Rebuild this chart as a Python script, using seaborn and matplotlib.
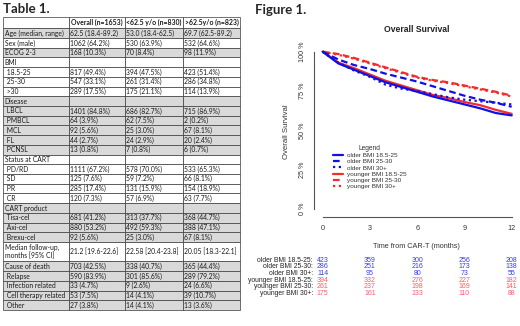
import numpy as np
import pandas as pd
import matplotlib
matplotlib.use("Agg")
import matplotlib.pyplot as plt
import seaborn as sns
from matplotlib.lines import Line2D
from matplotlib.transforms import blended_transform_factory

# ---------------- Table 1 data ----------------
col_labels = ["", "Overall (n=1653)", "<62.5 y/o (n=830)", ">62.5y/o (n=823)"]
row_labels = ["Age (median, range)", "Sex (male)", "ECOG 2-3", "BMI", " 18.5-25", " 25-30", " >30",
              "Disease", " LBCL", " PMBCL", " MCL", " FL", " PCNSL", "Status at CART", " PD/RD", " SD",
              " PR", " CR", "CART product", " Tisa-cel", " Axi-cel", " Brexu-cel",
              "Median follow-up,\nmonths [95% CI]", "Cause of death", " Relapse", " Infection related",
              " Cell therapy related", " Other"]
overall = ["62.5 (18.4-89.2)", "1062 (64.2%)", "168 (10.3%)", "", "817 (49.4%)", "547 (33.1%)",
           "289 (17.5%)", "", "1401 (84.8%)", "64 (3.9%)", "92 (5.6%)", "44 (2.7%)", "13 (0.8%)", "",
           "1111 (67.2%)", "125 (7.6%)", "285 (17.4%)", "120 (7.3%)", "", "681 (41.2%)", "880 (53.2%)",
           "92 (5.6%)", "21.2 [19.6-22.6]", "703 (42.5%)", "590 (83.9%)", "33 (4.7%)", "53 (7.5%)",
           "27 (3.8%)"]
young = ["53.0 (18.4-62.5)", "530 (63.9%)", "70 (8.4%)", "", "394 (47.5%)", "261 (31.4%)",
         "175 (21.1%)", "", "686 (82.7%)", "62 (7.5%)", "25 (3.0%)", "24 (2.9%)", "7 (0.8%)", "",
         "578 (70.0%)", "59 (7.2%)", "131 (15.9%)", "57 (6.9%)", "", "313 (37.7%)", "492 (59.3%)",
         "25 (3.0%)", "22.58 [20.4-23.8]", "338 (40.7%)", "301 (85.6%)", "9 (2.6%)", "14 (4.1%)",
         "14 (4.1%)"]
old = ["69.7 (62.5-89.2)", "532 (64.6%)", "98 (11.9%)", "", "423 (51.4%)", "286 (34.8%)",
       "114 (13.9%)", "", "715 (86.9%)", "2 (0.2%)", "67 (8.1%)", "20 (2.4%)", "6 (0.7%)", "",
       "533 (65.3%)", "66 (8.1%)", "154 (18.9%)", "63 (7.7%)", "", "368 (44.7%)", "388 (47.1%)",
       "67 (8.1%)", "20.05 [18.3-22.1]", "365 (44.4%)", "289 (79.2%)", "24 (6.6%)", "39 (10.7%)",
       "13 (3.6%)"]
shaded = [1, 0, 1, 0, 0, 0, 0, 1, 1, 1, 1, 1, 1, 0, 0, 0, 0, 0, 1, 1, 1, 1, 0, 1, 1, 1, 1, 1]

# ---------------- Figure 1 data (overall survival, %) ----------------
months = [0, 1, 2, 3, 4, 5, 6, 7, 8, 9, 10, 11, 12]
older_bmi_18 = [100, 92.5, 88.5, 84.5, 80.5, 77.5, 74.5, 71.5, 69, 66.5, 64, 61, 59.5]
older_bmi_25 = [100, 95, 91.5, 89, 86, 83.5, 81, 78, 75, 72, 69.5, 67.5, 65]
older_bmi_30 = [100, 93, 88, 84, 79, 76.5, 75, 73, 71, 69.5, 68.5, 67.5, 66.5]
younger_bmi_18 = [100, 93, 89.5, 85.5, 81.5, 78.5, 75.5, 72.5, 70.5, 68, 66, 63, 60.5]
younger_bmi_25 = [100, 98.5, 96, 93, 90, 87, 84, 82, 80.5, 78.5, 76.5, 74.5, 72]
younger_bmi_30 = [100, 98, 95.5, 92.5, 89.5, 86.5, 83.5, 81.5, 80, 78, 76, 74, 71.5]

group_names = ["older BMI 18.5-25", "older BMI 25-30", "older BMI 30+",
               "younger BMI 18.5-25", "younger BMI 25-30", "younger BMI 30+"]
group_surv = [older_bmi_18, older_bmi_25, older_bmi_30,
              younger_bmi_18, younger_bmi_25, younger_bmi_30]

risk_times = [0, 3, 6, 9, 12]
risk_older_18 = [423, 359, 300, 256, 208]
risk_older_25 = [286, 251, 216, 173, 138]
risk_older_30 = [114, 95, 80, 73, 55]
risk_younger_18 = [394, 332, 276, 227, 182]
risk_younger_25 = [261, 237, 198, 169, 141]
risk_younger_30 = [175, 161, 133, 110, 88]
group_risk = [risk_older_18, risk_older_25, risk_older_30,
              risk_younger_18, risk_younger_25, risk_younger_30]

# ---------------- styles ----------------
sns.set_style("white")
plt.rcParams["font.family"] = ["Liberation Sans", "DejaVu Sans"]

BLUE = "#1010e6"
RED = "#f52a2a"
BLUE_TXT = "#3a3af0"
RED_TXT = "#ff5a6a"
line_colors = [BLUE, BLUE, BLUE, RED, RED, RED]
txt_colors = [BLUE_TXT] * 3 + [RED_TXT] * 3
dash_styles = ["", (3, 1.6), (1, 1.6), "", (3, 1.6), (1, 1.6)]

W, H = 520, 326
fig = plt.figure(figsize=(W / 100, H / 100), dpi=100)

def fx(px):
    return px / W

def fy(py):
    return 1 - py / H

# ---------------- Table ----------------
fig.text(fx(3), fy(9), "Table 1.", fontsize=9.5, fontweight="bold", family="Lato",
         va="center", ha="left")
tx0, tx1, ty0, ty1 = 3, 240, 17, 310
ax_t = fig.add_axes([fx(tx0), fy(ty1), fx(tx1 - tx0), (ty1 - ty0) / H])
ax_t.axis("off")
cell_text = [[r, a, b, c] for r, a, b, c in zip(row_labels, overall, young, old)]
tbl = ax_t.table(cellText=cell_text, colLabels=col_labels, cellLoc="left",
                 bbox=[0, 0, 1, 1])
tbl.auto_set_font_size(False)
col_w = [66, 56, 58, 57]
for (r, c), cell in tbl.get_celld().items():
    cell.set_width(col_w[c])
    cell.PAD = 0.025
    cell.set_linewidth(0.5)
    cell.set_edgecolor("#3a3a3a")
    t = cell.get_text()
    t.set_fontsize(4.9)
    t.set_fontfamily("Lato")
    t.set_color("#1a1a1a")
    if r == 0:
        cell.set_height(1.17)
        cell.set_facecolor("white")
        t.set_fontweight("bold")
        t.set_fontsize(4.95)
    else:
        idx = r - 1
        cell.set_height(2.0 if "\n" in row_labels[idx] else 1.0)
        cell.set_facecolor("#d9d9d9" if shaded[idx] else "white")

# ---------------- Figure 1 ----------------
fig.text(fx(255), fy(10), "Figure 1.", fontsize=9.5, fontweight="bold", family="Lato",
         va="center", ha="left")

px_per_month = (511.7 - 322.7) / 12
px_per_pct = (209 - 51.7) / 100
ax_left_px, ax_bottom_px = 314, 217
xmin = -(322.7 - ax_left_px) / px_per_month
xmax = 12.49
ymin = -(ax_bottom_px - 209) / px_per_pct
ymax = 104
ax_right_px = 322.7 + xmax * px_per_month
ax_top_px = 209 - ymax * px_per_pct
ax = fig.add_axes([fx(ax_left_px), fy(ax_bottom_px), fx(ax_right_px - ax_left_px),
                   (ax_bottom_px - ax_top_px) / H])

records = []
for name, s in zip(group_names, group_surv):
    for m, v in zip(months, s):
        records.append({"month": m, "surv": v, "group": name})
df = pd.DataFrame(records)
draw_order = group_names[3:] + group_names[:3]
pal = dict(zip(group_names, line_colors))
dsh = dict(zip(group_names, dash_styles))
sns.lineplot(data=df, x="month", y="surv", hue="group", style="group",
             hue_order=draw_order, style_order=draw_order,
             palette=pal, dashes=dsh, linewidth=1.6, ax=ax, legend=False)

ax.set_xlim(xmin, xmax)
ax.set_ylim(ymin, ymax)
for sp in ["top", "right"]:
    ax.spines[sp].set_visible(False)
ax.spines["left"].set_bounds(0, 100)
ax.spines["bottom"].set_bounds(0, 12)
for sp in ["left", "bottom"]:
    ax.spines[sp].set_color("#555555")
    ax.spines[sp].set_linewidth(0.8)
ax.set_xticks(risk_times)
ax.set_xticklabels([str(t) for t in risk_times], fontsize=5.2, color="#333333")
yt = [0, 25, 50, 75, 100]
ax.set_yticks(yt)
ax.set_yticklabels([f"{v} %" for v in yt], fontsize=5.2, color="#333333",
                   rotation=90, va="center")
ax.tick_params(axis="both", length=3, width=0.8, color="#555555", pad=3, direction="out")
ax.set_ylabel("Overall Survival", fontsize=5.6, color="#333333", labelpad=6)
ax.set_xlabel("Time from CAR-T (months)", fontsize=5.2, color="#333333")
ax.xaxis.set_label_coords(0.5, -(243.5 - ax_bottom_px) / (ax_bottom_px - ax_top_px))
ax.set_title("Overall Survival", fontsize=6.2, fontweight="bold", color="#222222",
             pad=(ax_top_px - 28) * 0.72 - 3)
ax.set_facecolor("white")

handles = [Line2D([0], [0], color=c, lw=1.6,
                  linestyle="-" if d == "" else (0, d))
           for c, d in zip(line_colors, dash_styles)]
leg = fig.legend(handles, group_names, title="Legend", loc="upper left",
                 bbox_to_anchor=(fx(333), fy(145)), frameon=False, fontsize=4.6,
                 title_fontsize=4.8, handlelength=1.6, handletextpad=0.6,
                 labelspacing=0.12, borderpad=0, borderaxespad=0)
for t in leg.get_texts():
    t.set_color("#333333")
leg.get_title().set_color("#333333")

# numbers at risk
tr = blended_transform_factory(ax.transData, fig.transFigure)
row_y0, row_dy = 260.2, 6.7
for i, (name, counts) in enumerate(zip(group_names, group_risk)):
    yy = fy(row_y0 + i * row_dy)
    ax.text(-0.62, yy, name + ":", transform=tr, ha="right", va="center",
            fontsize=4.9, color="#222222", clip_on=False)
    for t, n in zip(risk_times, counts):
        ax.text(t, yy, str(n), transform=tr, ha="center", va="center",
                fontsize=5.0, color=txt_colors[i], clip_on=False)

fig.savefig("out.png", dpi=100, facecolor="white")
